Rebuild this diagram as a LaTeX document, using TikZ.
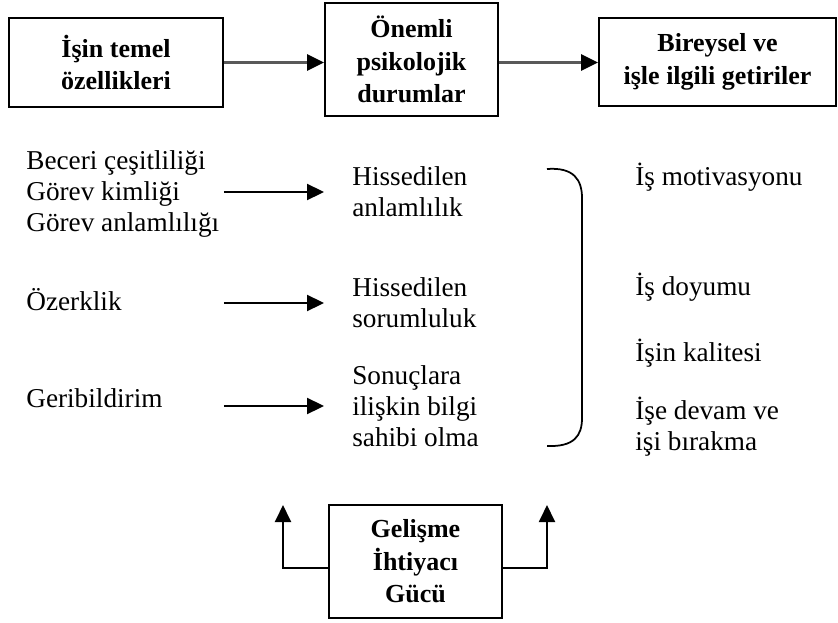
\documentclass[tikz,border=0pt]{standalone}
\usepackage{fontspec}
\setmainfont{Liberation Serif}
\usetikzlibrary{arrows.meta,positioning}

\begin{document}
\begin{tikzpicture}[x=0.02cm,y=-0.02cm,
  every node/.style={font=\fontsize{15.5}{17.5}\selectfont},
  kutu/.style={draw,line width=1.1pt,align=center,inner sep=0pt,font=\fontsize{14.8}{18.5}\selectfont\bfseries},
  metin/.style={align=left,anchor=west,inner sep=0pt},
  kalinok/.style={-{Triangle[length=0.34cm,width=0.32cm,color=black]},line width=1.6pt,black!65},
  ok/.style={-{Triangle[length=0.34cm,width=0.32cm]},line width=1.1pt}]
  \useasboundingbox (0,0) rectangle (838,622);

  % ust kutular
  \node[kutu,minimum width=4.28cm,minimum height=1.78cm] (isin) at (116,62.5) {İşin temel\\özellikleri};
  \node[kutu,minimum width=3.46cm,minimum height=2.26cm] (onemli) at (411.5,59.5) {Önemli\\psikolojik\\durumlar};
  \node[kutu,minimum width=4.74cm,minimum height=1.76cm] (bireysel) at (717.5,62) {Bireysel ve\\işle ilgili getiriler};
  \draw[kalinok] (isin.east) -- (isin.east -| onemli.west);
  \draw[kalinok] (onemli.east |- isin.east) -- (isin.east -| bireysel.west);

  % is ozellikleri
  \node[metin] (beceri) at (26,194) {Beceri çeşitliliği\\Görev kimliği\\Görev anlamlılığı};
  \node[metin] (ozerk) at (26,300) {Özerklik};
  \node[metin] (geri) at (26,398) {Geribildirim};

  % psikolojik durumlar
  \node[metin] (anlam) at (352,192) {Hissedilen\\anlamlılık};
  \node[metin] (sorum) at (352,303) {Hissedilen\\sorumluluk};
  \node[metin] (sonuc) at (352,406) {Sonuçlara\\ilişkin bilgi\\sahibi olma};
  \draw[ok] (isin.east |- anlam.west) -- (onemli.west |- anlam.west);
  \draw[ok] (isin.east |- sorum.west) -- (onemli.west |- sorum.west);
  \draw[ok] (isin.east |- sonuc.west) -- (onemli.west |- sonuc.west);

  % getiriler
  \node[metin] (motiv) at (635,177) {İş motivasyonu};
  \node[metin] (doyum) at (635,287) {İş doyumu};
  \node[metin] (kalite) at (635,353) {İşin kalitesi};
  \node[metin] (devam) at (635,427) {İşe devam ve\\işi bırakma};
  \draw[line width=1pt] (547,169) .. controls (574,167) and (582,180) .. (582,198) -- (582,418) .. controls (582,436) and (574,447) .. (547,446);

  % gelisme ihtiyaci
  \node[kutu,minimum width=3.46cm,minimum height=2.26cm] (gelisme) at (415.5,561.5) {Gelişme\\İhtiyacı\\Gücü};
  \coordinate (solok) at (283,505);
  \coordinate (sagok) at (547,505);
  \draw[ok] ([yshift=-0.13cm]gelisme.west) -| (solok);
  \draw[ok] ([yshift=-0.13cm]gelisme.east) -| (sagok);
\end{tikzpicture}
\end{document}
